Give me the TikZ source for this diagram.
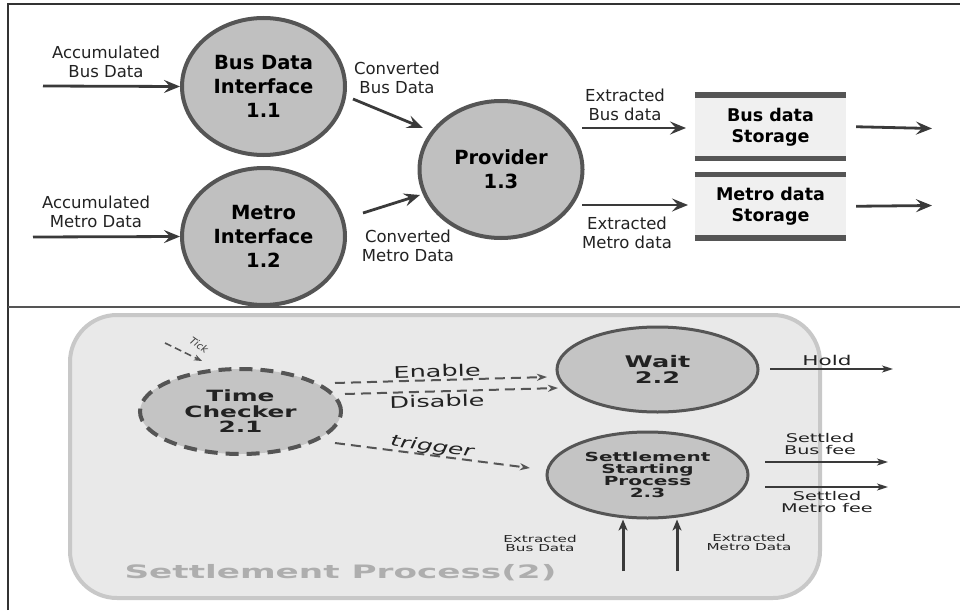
\documentclass[tikz,border=0pt]{standalone}
\usepackage{fontspec}
\setmainfont{DejaVu Sans}
\newfontfamily\widefont[FakeStretch=1.6]{DejaVu Sans}
\newfontfamily\titlefont[FakeStretch=1.85]{DejaVu Sans}
\usetikzlibrary{shapes.geometric,arrows.meta}
\definecolor{edge}{HTML}{555555}
\definecolor{bub}{HTML}{C0C0C0}
\definecolor{bubb}{HTML}{C4C4C4}
\definecolor{ink}{HTML}{3A3A3A}
\definecolor{txt}{HTML}{222222}
\definecolor{store}{HTML}{F0F0F0}
\definecolor{panel}{HTML}{E9E9E9}
\definecolor{panelline}{HTML}{C8C8C8}
\definecolor{frame}{HTML}{333333}
\definecolor{ghost}{HTML}{AEAEAE}
\tikzset{
  proc/.style={ellipse, draw=edge, line width=4pt, fill=bub, inner sep=0pt,
    minimum width=163pt, minimum height=137pt, align=center, text=black,
    font=\fontsize{19.5}{24}\selectfont\bfseries},
  lbl/.style={font=\fontsize{16.5}{19}\selectfont, text=txt, align=center, inner sep=0pt},
  flow/.style={draw=ink, line width=2.8pt, -{Stealth[length=16pt,width=13pt,inset=6pt]}},
  storage/.style={rectangle, fill=store, minimum width=151pt, minimum height=63.5pt,
    inner sep=0pt, align=center, text=black, font=\fontsize{17.5}{21}\selectfont\bfseries},
  bar/.style={draw=edge, line width=5.5pt},
  bproc/.style={ellipse, draw=edge, line width=3pt, fill=bubb, inner sep=0pt,
    minimum width=201pt, minimum height=85pt, align=center, text=txt},
  blbl/.style={text=txt, align=center, inner sep=0pt},
  dflow/.style={draw=edge, line width=2pt, dash pattern=on 10pt off 6pt,
    -{Stealth[length=10pt,width=7pt,inset=3pt]}},
  sflow/.style={draw=ink, line width=1.8pt, -{Stealth[length=11pt,width=7pt,inset=3pt]}},
  uflow/.style={draw=ink, line width=3pt, -{Stealth[length=11pt,width=9pt,inset=3pt]}}
}
\begin{document}
\begin{tikzpicture}[x=1pt,y=-1pt]
\useasboundingbox (0,0) rectangle (960,610);
% frame
\draw[frame, line width=2pt] (8,610) -- (8,4) -- (960,4);
\draw[edge, line width=2pt] (8,307) -- (960,307);

% ---------------- top panel ----------------
\node[proc] (n11) at (263.5,86.5) {Bus Data\\Interface\\1.1};
\node[proc] (n12) at (263.5,236.5) {Metro\\Interface\\1.2};
\node[proc] (n13) at (501,169.5) {Provider\\1.3};

\node[storage] (bs) at (770.5,126.75) {Bus data\\Storage};
\node[storage] (ms) at (770.5,206.25) {Metro data\\Storage};
\draw[bar] (bs.north west) -- (bs.north east);
\draw[bar] (bs.south west) -- (bs.south east);
\draw[bar] (ms.north west) -- (ms.north east);
\draw[bar] (ms.south west) -- (ms.south east);

\coordinate (a1) at (43,86);
\coordinate (a2) at (33,237);
\coordinate (c1s) at (353,99);
\coordinate (c1e) at (423,128);
\coordinate (c2s) at (363,213);
\coordinate (c2e) at (420,195);
\coordinate (e1s) at (582,128);
\coordinate (e1e) at (686,128);
\coordinate (e2s) at (582,205);
\coordinate (e2e) at (688,205);
\coordinate (o1e) at (932,128.5);
\coordinate (o2e) at (932,205.5);

\draw[flow] (a1) -- (n11.west);
\draw[flow] (a2) -- (n12.west);
\draw[flow] (c1s) -- (c1e);
\draw[flow] (c2s) -- (c2e);
\draw[flow] (e1s) -- (e1e);
\draw[flow] (e2s) -- (e2e);
\draw[flow] ([xshift=10pt]bs.east) -- (o1e);
\draw[flow] ([xshift=10pt]ms.east) -- (o2e);

\node[lbl] (l1) at (106,61.5) {Accumulated\\Bus Data};
\node[lbl] (l2) at (96,211.5) {Accumulated\\Metro Data};
\node[lbl] (l3) at (397,77.5) {Converted\\Bus Data};
\node[lbl] (l4) at (408,245.5) {Converted\\Metro Data};
\node[lbl] (l5) at (625,104.5) {Extracted\\Bus data};
\node[lbl] (l6) at (627,232.5) {Extracted\\Metro data};

% ---------------- bottom panel ----------------
\draw[draw=panelline, fill=panel, line width=4pt, rounded corners=47pt] (70,315) rectangle (820,598);

\node[bproc, dash pattern=on 13pt off 8pt, line width=4pt,
  font=\widefont\fontsize{15.5}{15.5}\selectfont\bfseries] (tc) at (240.5,411.5) {Time\\Checker\\2.1};
\node[bproc, font=\widefont\fontsize{16}{16.5}\selectfont\bfseries] (wt) at (657.5,369.5) {Wait\\2.2};
\node[bproc, minimum height=86pt, font=\widefont\fontsize{12.5}{12.2}\selectfont\bfseries] (sp) at (647.5,475) {Settlement\\Starting\\Process\\2.3};

\coordinate (tk1) at (165,343);
\coordinate (tk2) at (202,361);
\draw[dflow, line width=1.6pt, dash pattern=on 7pt off 4pt, -{Stealth[length=8pt,width=6pt,inset=2.5pt]}] (tk1) -- (tk2);
\node[blbl, rotate=-35, font=\fontsize{10}{10}\selectfont\itshape, text=ink] (tick) at (199,345) {Tick};

\coordinate (en1) at (335,383);
\coordinate (en2) at (547,377);
\coordinate (di1) at (345,394);
\coordinate (di2) at (558,388);
\coordinate (tr1) at (335,443);
\coordinate (tr2) at (530,468);
\draw[dflow] (en1) -- (en2);
\draw[dflow] (di1) -- (di2);
\draw[dflow] (tr1) -- (tr2);
\node[blbl, rotate=1.6, font=\widefont\fontsize{16}{17}\selectfont] (len) at (437,371) {Enable};
\node[blbl, rotate=1.6, font=\widefont\fontsize{16}{17}\selectfont] (ldi) at (437,401) {Disable};
\node[blbl, rotate=-7.5, font=\widefont\fontsize{15.5}{17}\selectfont\itshape] (ltr) at (432,447) {trigger};

\coordinate (ho1) at (770,369);
\coordinate (ho2) at (893,369);
\coordinate (sb1) at (765,462);
\coordinate (sb2) at (888,462);
\coordinate (sm1) at (765,487);
\coordinate (sm2) at (888,487);
\draw[sflow] (ho1) -- (ho2);
\draw[sflow] (sb1) -- (sb2);
\draw[sflow] (sm1) -- (sm2);
\node[blbl, font=\widefont\fontsize{13.5}{14}\selectfont] (lho) at (827,360) {Hold};
\node[blbl, font=\widefont\fontsize{12}{12}\selectfont] (lsb) at (820,444) {Settled\\Bus fee};
\node[blbl, font=\widefont\fontsize{12}{12}\selectfont] (lsm) at (827,502) {Settled\\Metro fee};

\coordinate (ub) at (623,571);
\coordinate (um) at (677,571);
\draw[uflow] (ub) -- (ub |- sp.south);
\draw[uflow] (um) -- (um |- sp.south);
\node[blbl, font=\widefont\fontsize{9.5}{9.5}\selectfont] (leb) at (540,543.5) {Extracted\\Bus Data};
\node[blbl, font=\widefont\fontsize{9.5}{9.5}\selectfont] (lem) at (749,542.5) {Extracted\\Metro Data};

\node[blbl, text=ghost, font=\titlefont\fontsize{18.5}{19}\selectfont\bfseries] (title) at (340.5,573) {Settlement Process(2)};
\end{tikzpicture}
\end{document}
